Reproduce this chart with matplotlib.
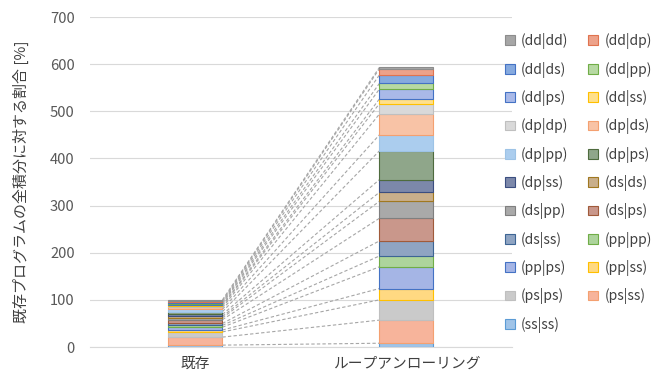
import matplotlib as mpl
mpl.use('Agg')
import matplotlib.pyplot as plt
import numpy as np

plt.rcParams['font.family'] = ['Noto Sans CJK JP', 'DejaVu Sans']

# カテゴリ
categories = ['既存', 'ループアンローリング']

# 系列名 (凡例の順)
series = ['(dd|dd)', '(dd|dp)', '(dd|ds)', '(dd|pp)', '(dd|ps)', '(dd|ss)',
          '(dp|dp)', '(dp|ds)', '(dp|pp)', '(dp|ps)', '(dp|ss)',
          '(ds|ds)', '(ds|pp)', '(ds|ps)', '(ds|ss)',
          '(pp|pp)', '(pp|ps)', '(pp|ss)', '(ps|ps)', '(ps|ss)', '(ss|ss)']

# 既存プログラム (合計 100%)
base_vals = [2, 2, 2, 2, 3, 2, 3, 4, 5, 6, 4, 3, 4, 8, 4, 4, 6, 4, 11, 17, 4]
# ループアンローリング
unroll_vals = [3, 13, 18, 12, 21, 10, 22, 44, 34, 61, 27, 19, 36, 48, 32,
               23, 46, 24, 43, 49, 8]

# 塗り色と枠線色
fills = ['#A6A6A6', '#EDA28A', '#86AADF', '#B7D9A3', '#A9B9E8', '#FFE08C',
         '#D9D9D9', '#F8C3A6', '#ABCDEE', '#8FA68A', '#7C88AA',
         '#C9AF8B', '#A9A9A9', '#C9978B', '#8FA4C2',
         '#ADD49C', '#A5B5E5', '#FFD982', '#CACACA', '#F7B49B', '#A0C4E8']
edges = ['#8C8C8C', '#E0734F', '#4472C4', '#70AD47', '#4472C4', '#FFC000',
         '#BFBFBF', '#F4A070', '#9DC3E6', '#4E6B3E', '#3B4E80',
         '#A07820', '#7F7F7F', '#A05A3A', '#3D6594',
         '#70AD47', '#4472C4', '#FFC000', '#BFBFBF', '#F4A070', '#5B9BD5']

fig = plt.figure(figsize=(6.52, 3.78), dpi=100)
ax = fig.add_axes([0.138, 0.082, 0.647, 0.873])

x = np.arange(len(categories))
w = 0.256
n = len(series)

# 下から (ss|ss) ... (dd|dd) の順に積み上げ
order = list(range(n))[::-1]
bottoms = np.zeros(2)
tops = []
handles = [None] * n
for i in order:
    vals = np.array([base_vals[i], unroll_vals[i]], dtype=float)
    h = ax.bar(x, vals, w, bottom=bottoms, color=fills[i], edgecolor=edges[i],
               linewidth=0.8, label=series[i], zorder=3)
    handles[i] = h
    bottoms = bottoms + vals
    tops.append(bottoms.copy())

# 区分線
for t in tops:
    ax.plot([x[0] + w / 2, x[1] - w / 2], [t[0], t[1]], color='#A6A6A6',
            linestyle=(0, (3, 2)), linewidth=0.8, zorder=2)

ax.set_xlim(-0.5, 1.5)
ax.set_ylim(0, 700)
ax.set_yticks(range(0, 701, 100))
ax.set_xticks(x)
ax.set_xticklabels(categories, fontsize=10.6, color='#404040')
ax.tick_params(axis='y', labelsize=10.6, colors='#595959', length=0, pad=11)
ax.tick_params(axis='x', length=0, pad=7)
ax.grid(axis='y', color='#D9D9D9', linewidth=0.8, zorder=0)
for s in ['top', 'right', 'left']:
    ax.spines[s].set_visible(False)
ax.spines['bottom'].set_color('#D9D9D9')
ax.set_ylabel('既存プログラムの全積分に対する割合 [%]', fontsize=10.8,
              color='#404040', labelpad=15)

# 凡例 (行方向に並べる)
leg_order = list(range(0, n, 2)) + list(range(1, n, 2))
leg = fig.legend([handles[i] for i in leg_order], [series[i] for i in leg_order],
                 ncol=2, loc='upper left', bbox_to_anchor=(0.766, 0.927),
                 frameon=False, fontsize=10, handlelength=0.7, handleheight=0.7,
                 handletextpad=0.45, columnspacing=1.45, labelspacing=0.89,
                 borderaxespad=0)
for t in leg.get_texts():
    t.set_color('#404040')

plt.savefig('out.png', dpi=100)
